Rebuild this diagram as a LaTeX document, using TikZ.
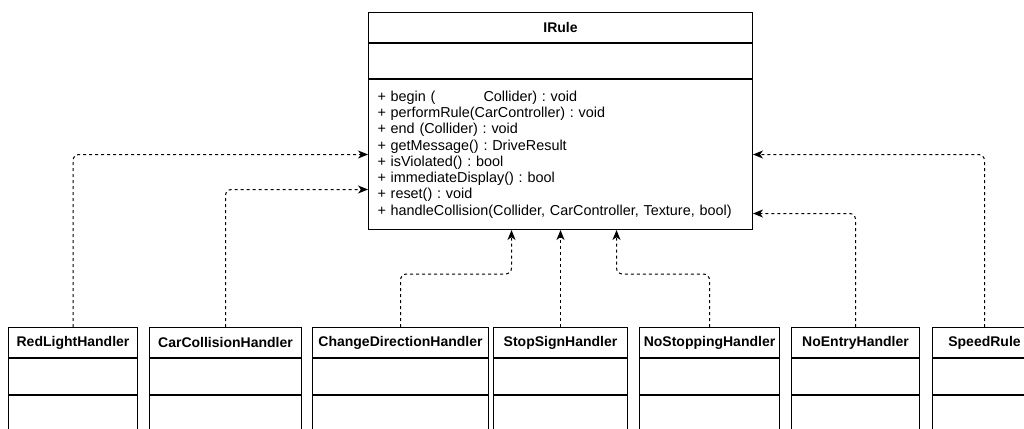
\documentclass[tikz,border=0pt]{standalone}
\usepackage{fontspec}
\setmainfont{Liberation Sans}
\usetikzlibrary{positioning,arrows.meta}
\frenchspacing

\begin{document}
\begin{tikzpicture}[x=1pt, y=-1pt,
    classhead/.style={draw=black, line width=1pt, minimum height=30pt, inner sep=0pt, anchor=north west, font=\bfseries\fontsize{14}{16}\selectfont},
    classpart/.style={draw=black, line width=1pt, inner sep=0pt},
    realize/.style={draw=black, line width=1pt, dash pattern=on 3pt off 3pt, rounded corners=6pt, -{Stealth[length=10pt, width=8pt, inset=3pt]}}]
    \useasboundingbox (0,0) rectangle (1024,428);
    \clip (0,0) rectangle (1024,428);

    % interface
    \node[classhead, minimum width=384pt] (irh) at (368,12) {IRule};
    \node[classpart, minimum width=384pt, minimum height=35pt, below=0pt of irh] (ira) {};
    \node[classpart, text width=366pt, inner xsep=9pt, minimum height=150pt, align=left, font=\fontsize{14.4}{16.3}\selectfont, below=0pt of ira] (irm) {+ begin (\hspace{48pt}Collider) : void\\
        + performRule(CarController) : void\\
        + end (Collider) : void\\
        + getMessage() : DriveResult\\
        + isViolated() : bool\\
        + immediateDisplay() : bool\\
        + reset() : void\\
        + handleCollision(Collider, CarController, Texture, bool)};

    % implementing classes
    \node[classhead, minimum width=129pt] (rlh) at (8,327) {RedLightHandler};
    \node[classpart, minimum width=129pt, minimum height=36pt, below=0pt of rlh] (rla) {};
    \node[classpart, minimum width=129pt, minimum height=60pt, below=0pt of rla] (rlm) {};

    \node[classhead, minimum width=152pt] (cch) at (149,327) {CarCollisionHandler};
    \node[classpart, minimum width=152pt, minimum height=36pt, below=0pt of cch] (cca) {};
    \node[classpart, minimum width=152pt, minimum height=60pt, below=0pt of cca] (ccm) {};

    \node[classhead, minimum width=176pt] (cdh) at (312,327) {ChangeDirectionHandler};
    \node[classpart, minimum width=176pt, minimum height=36pt, below=0pt of cdh] (cda) {};
    \node[classpart, minimum width=176pt, minimum height=60pt, below=0pt of cda] (cdm) {};

    \node[classhead, minimum width=134pt] (ssh) at (493,327) {StopSignHandler};
    \node[classpart, minimum width=134pt, minimum height=36pt, below=0pt of ssh] (ssa) {};
    \node[classpart, minimum width=134pt, minimum height=60pt, below=0pt of ssa] (ssm) {};

    \node[classhead, minimum width=140pt] (nsh) at (639,327) {NoStoppingHandler};
    \node[classpart, minimum width=140pt, minimum height=36pt, below=0pt of nsh] (nsa) {};
    \node[classpart, minimum width=140pt, minimum height=60pt, below=0pt of nsa] (nsm) {};

    \node[classhead, minimum width=128pt] (neh) at (791,327) {NoEntryHandler};
    \node[classpart, minimum width=128pt, minimum height=36pt, below=0pt of neh] (nea) {};
    \node[classpart, minimum width=128pt, minimum height=60pt, below=0pt of nea] (nem) {};

    \node[classhead, minimum width=104pt] (srh) at (932,327) {SpeedRule};
    \node[classpart, minimum width=104pt, minimum height=36pt, below=0pt of srh] (sra) {};
    \node[classpart, minimum width=104pt, minimum height=60pt, below=0pt of sra] (srm) {};

    % realizations
    \draw[realize] (rlh.north) |- (irm.west);
    \draw[realize] (cch.north) |- ([yshift=-35pt]irm.west);
    \draw[realize] (cdh.north) -- ++(0,-53) -| ([xshift=-49pt]irm.south);
    \draw[realize] (ssh.north) -- (ssh.north |- irm.south);
    \draw[realize] (nsh.north) -- ++(0,-53) -| ([xshift=56pt]irm.south);
    \draw[realize] (neh.north) |- ([yshift=-59pt]irm.east);
    \draw[realize] (srh.north) |- (irm.east);
\end{tikzpicture}
\end{document}
